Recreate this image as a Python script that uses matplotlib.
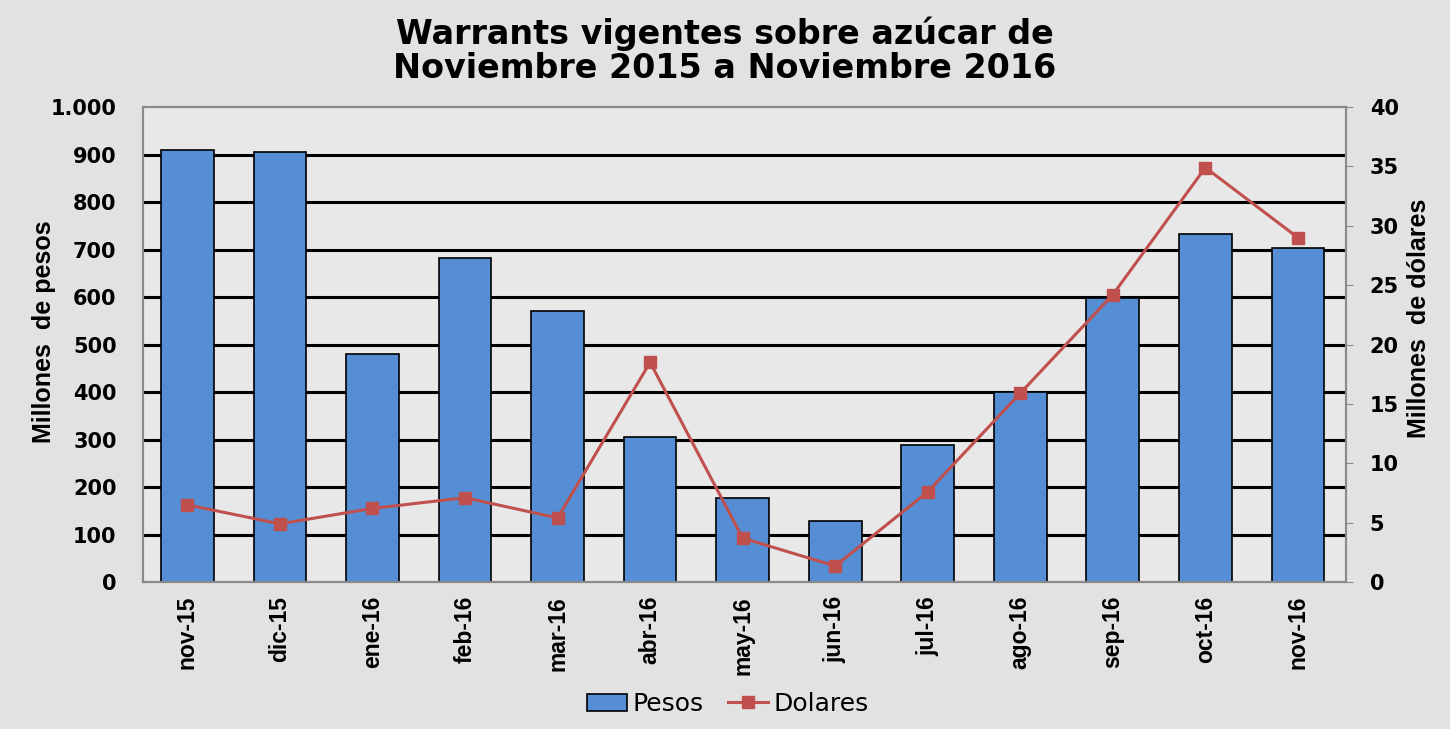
import matplotlib
matplotlib.use("Agg")
import matplotlib.pyplot as plt
import numpy as np
from matplotlib.lines import Line2D
from matplotlib.patches import Patch

categories = ["nov-15", "dic-15", "ene-16", "feb-16", "mar-16", "abr-16", "may-16",
              "jun-16", "jul-16", "ago-16", "sep-16", "oct-16", "nov-16"]
pesos = [909, 905, 480, 682, 570, 305, 177, 128, 288, 400, 598, 733, 703]
dolares = [6.5, 4.9, 6.2, 7.1, 5.4, 18.5, 3.7, 1.35, 7.6, 15.9, 24.2, 34.9, 29.0]
left_ticks = [0, 100, 200, 300, 400, 500, 600, 700, 800, 900, 1000]
left_tick_labels = ["0", "100", "200", "300", "400", "500", "600", "700", "800", "900", "1.000"]
right_ticks = [0, 5, 10, 15, 20, 25, 30, 35, 40]

plt.rcParams['font.family'] = ['Liberation Sans', 'DejaVu Sans']
WIDE = ['DejaVu Sans']

bg = "#e2e2e2"
fig = plt.figure(figsize=(14.5, 7.29), dpi=100, facecolor=bg)
ax = fig.add_axes([0.0986, 0.2016, 0.8297, 0.6516])
ax.set_facecolor("#e8e8e8")
x = np.arange(len(categories))

ax.bar(x, pesos, width=0.57, color="#558ED5", edgecolor="black", linewidth=1.2, zorder=3)
ax.set_ylim(0, 1000)
ax.set_xlim(-0.48, 12.52)
ax.set_yticks(left_ticks)
ax.set_yticklabels(left_tick_labels, fontsize=15, fontweight="bold", family=WIDE)
ax.set_xticks(x)
ax.set_xticklabels(categories, rotation=90, fontsize=16.5, fontweight="bold")
ax.tick_params(axis="y", length=0, pad=19)
ax.tick_params(axis="x", length=0, pad=10)
for v in left_ticks[1:-1]:
    ax.axhline(v, color="black", linewidth=2.2, zorder=1)
for s in ax.spines.values():
    s.set_color("#8a8a8a")
    s.set_linewidth(1.5)
ax.set_ylabel("Millones  de pesos", fontsize=18, fontweight="bold")
ax.yaxis.set_label_coords(-0.0723, 0.526)

ax2 = ax.twinx()
ax2.plot(x, dolares, color="#C0504D", linewidth=2.2, marker="s", markersize=9,
         markeredgecolor="#C0504D", zorder=4)
ax2.set_ylim(0, 40)
ax2.set_yticks(right_ticks)
ax2.set_yticklabels([str(t) for t in right_ticks], fontsize=15, fontweight="bold", family=WIDE)
ax2.tick_params(axis="y", length=5, color="#8a8a8a", pad=12)
ax2.set_ylabel("Millones  de dólares", fontsize=18, fontweight="bold")
ax2.yaxis.set_label_coords(1.0507, 0.556)
for s in ax2.spines.values():
    s.set_color("#8a8a8a")
    s.set_linewidth(1.5)

fig.text(0.5, 0.978, "Warrants vigentes sobre azúcar de\nNoviembre 2015 a Noviembre 2016",
         ha="center", va="top", fontsize=24, fontweight="bold", linespacing=1.05,
         family=WIDE)

handles = [Patch(facecolor="#558ED5", edgecolor="black", linewidth=1.2),
           Line2D([0], [0], color="#C0504D", linewidth=2.2, marker="s", markersize=9)]
fig.legend(handles, ["Pesos", "Dolares"], loc="center", bbox_to_anchor=(0.502, 0.034),
           ncol=2, frameon=False, prop={'family': WIDE, 'size': 18},
           handlelength=1.6, handletextpad=0.2, columnspacing=1.0)

fig.savefig("out.png", dpi=100, facecolor=bg)
